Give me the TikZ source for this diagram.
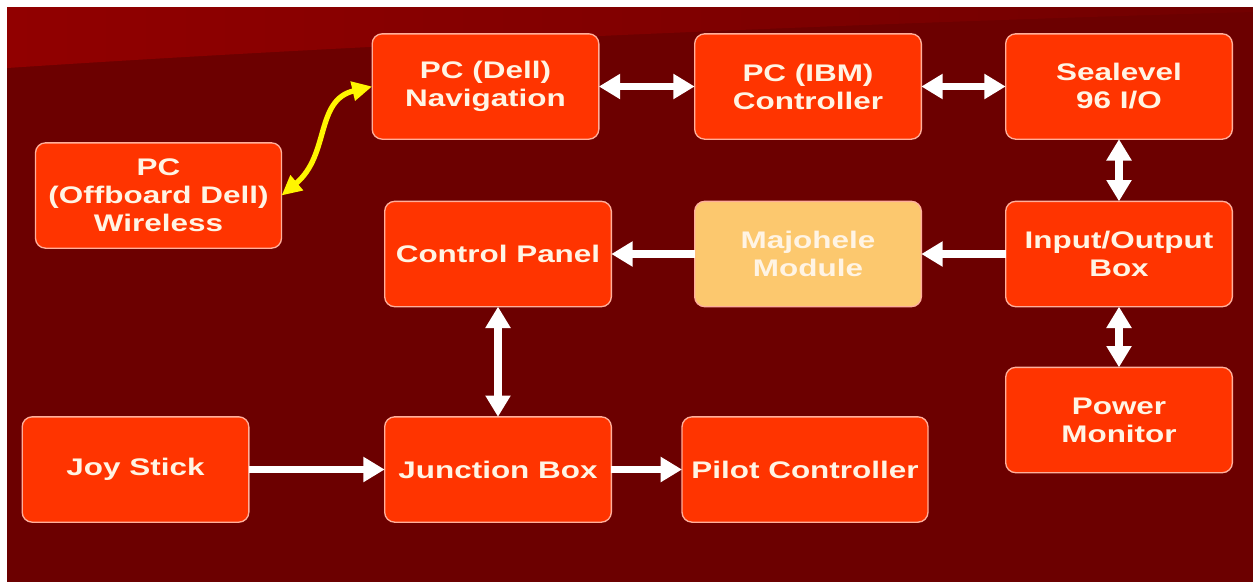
\documentclass[tikz,border=0pt]{standalone}
\usepackage{fontspec}
\newfontfamily\boxfont{Liberation Sans}[FakeStretch=1.31]
\usetikzlibrary{arrows.meta}

\definecolor{bgdark}{RGB}{108,0,0}
\definecolor{bgband}{RGB}{145,0,0}
\definecolor{boxfill}{RGB}{255,52,0}
\definecolor{boxedge}{RGB}{255,175,155}
\definecolor{modfill}{RGB}{252,200,110}
\definecolor{labeltext}{RGB}{255,244,228}
\definecolor{linkyellow}{RGB}{255,245,0}

\tikzset{
  block/.style={draw=boxedge, line width=1pt, fill=boxfill,
    rounded corners=7.5pt, minimum width=170pt, minimum height=79pt,
    inner sep=2pt, outer sep=0pt, align=center, text=labeltext,
    font=\boxfont\bfseries\fontsize{18}{21}\selectfont},
  wideblock/.style={block, minimum width=184.5pt},
  modblock/.style={block, fill=modfill},
  flow/.style={draw=white, line width=5.5pt,
    -{Triangle[length=16pt,width=18pt]}},
  duplex/.style={draw=white, line width=5.5pt,
    {Triangle[length=16pt,width=18pt]}-{Triangle[length=16pt,width=18pt]}},
  radiolink/.style={draw=linkyellow, line width=4pt,
    {Triangle[length=15pt,width=14pt]}-{Triangle[length=15pt,width=14pt]}}
}

\begin{document}
\begin{tikzpicture}[x=0.75pt,y=-0.75pt]
  \useasboundingbox (0,0) rectangle (1253,582);
  % page and backdrop
  \fill[white] (0,0) rectangle (1253,582);
  \fill[bgdark] (7,7) rectangle (1253,582);
  \shade[left color=bgband, right color=bgdark!85!bgband]
    (7,7) -- (1253,7) -- (1253,12) .. controls (900,22) and (400,42) .. (7,68) -- cycle;

  % blocks
  \node[wideblock] (off)   at (158.5,195.5) {PC\\(Offboard Dell)\\Wireless};
  \node[block]     (nav)   at (485.5,86.5)  {PC (Dell)\\Navigation};
  \node[block]     (ibm)   at (808,86.5)    {PC (IBM)\\Controller};
  \node[block]     (sea)   at (1119,86.5)   {Sealevel\\96 I/O};
  \node[block]     (cp)    at (498,254)     {Control Panel};
  \node[modblock]  (maj)   at (808,254)     {Majohele\\Module};
  \node[block]     (io)    at (1119,254)    {Input/Output\\Box};
  \node[block]     (pm)    at (1119,420)    {Power\\Monitor};
  \node[block]     (joy)   at (135.5,469.5) {Joy Stick};
  \node[block]     (jb)    at (498,469.5)   {Junction Box};
  \node[wideblock] (pilot) at (805,469.5)   {Pilot Controller};

  % connections
  \draw[radiolink] (off.east) .. controls (330,155) and (315,100) .. (nav.west);
  \draw[duplex] (nav) -- (ibm);
  \draw[duplex] (ibm) -- (sea);
  \draw[duplex] (sea) -- (io);
  \draw[duplex] (io) -- (pm);
  \draw[flow] (io) -- (maj);
  \draw[flow] (maj) -- (cp);
  \draw[duplex] (cp) -- (jb);
  \draw[flow] (joy) -- (jb);
  \draw[flow] (jb) -- (pilot);
\end{tikzpicture}
\end{document}
